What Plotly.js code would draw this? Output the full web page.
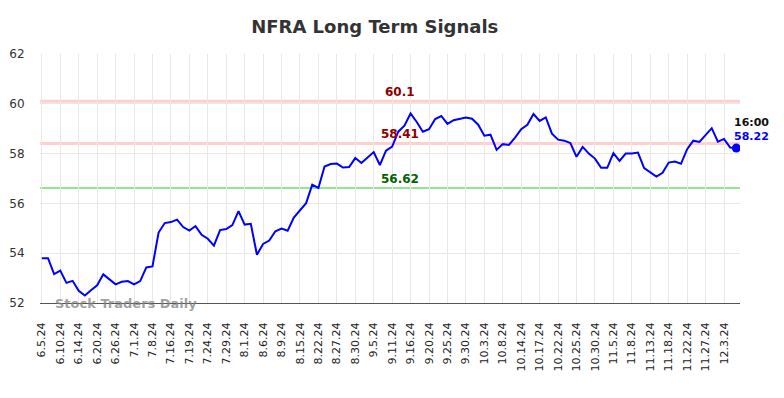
<!DOCTYPE html>
<html>
<head>
<meta charset="utf-8">
<script src="https://cdn.plot.ly/plotly-3.0.1.min.js"></script>
<style>html,body{margin:0;padding:0;background:#fff;}#chart{width:784px;height:398px;}</style>
</head>
<body>
<div id="chart"></div>
<script>
const dates = [
"6.5.24","6.6.24","6.7.24","6.10.24","6.11.24","6.12.24","6.14.24","6.17.24","6.18.24",
"6.20.24","6.21.24","6.24.24","6.26.24","6.27.24","6.28.24","7.1.24","7.2.24","7.3.24",
"7.8.24","7.10.24","7.12.24","7.16.24","7.17.24","7.18.24","7.19.24","7.22.24","7.23.24",
"7.24.24","7.25.24","7.26.24","7.29.24","7.30.24","7.31.24","8.1.24","8.2.24","8.5.24",
"8.6.24","8.7.24","8.8.24","8.9.24","8.12.24","8.13.24","8.15.24","8.16.24","8.19.24",
"8.22.24","8.23.24","8.26.24","8.27.24","8.28.24","8.29.24","8.30.24","9.3.24","9.4.24",
"9.5.24","9.6.24","9.9.24","9.11.24","9.12.24","9.13.24","9.16.24","9.17.24","9.18.24",
"9.20.24","9.23.24","9.24.24","9.25.24","9.26.24","9.27.24","9.30.24","10.1.24","10.2.24",
"10.3.24","10.4.24","10.7.24","10.8.24","10.9.24","10.10.24","10.14.24","10.15.24","10.16.24",
"10.17.24","10.18.24","10.21.24","10.22.24","10.23.24","10.24.24","10.25.24","10.28.24","10.29.24",
"10.30.24","10.31.24","11.1.24","11.5.24","11.6.24","11.7.24","11.8.24","11.11.24","11.12.24",
"11.13.24","11.14.24","11.15.24","11.18.24","11.19.24","11.20.24","11.22.24","11.25.24","11.26.24",
"11.27.24","11.29.24","12.2.24","12.3.24","12.4.24","12.5.24"
];
const prices = [
53.80,53.80,53.16,53.30,52.81,52.89,52.49,52.30,52.51,
52.71,53.15,52.96,52.75,52.85,52.88,52.75,52.88,53.43,
53.47,54.83,55.21,55.25,55.35,55.05,54.91,55.09,54.74,
54.58,54.30,54.93,54.97,55.13,55.69,55.15,55.18,53.94,
54.37,54.51,54.88,54.99,54.90,55.43,55.70,56.01,56.75,
56.62,57.48,57.58,57.60,57.44,57.46,57.82,57.62,57.84,
58.06,57.54,58.12,58.28,58.88,59.12,59.61,59.27,58.88,
58.98,59.39,59.51,59.19,59.34,59.40,59.45,59.40,59.16,
58.72,58.76,58.15,58.38,58.35,58.64,58.98,59.16,59.59,
59.31,59.45,58.80,58.56,58.52,58.42,57.87,58.27,58.00,
57.80,57.43,57.43,58.02,57.71,58.00,58.00,58.04,57.42,
57.24,57.08,57.23,57.64,57.68,57.59,58.18,58.52,58.47,
58.74,59.02,58.48,58.59,58.24,58.22
];
const tickLabels = [
"6.5.24","6.10.24","6.14.24","6.20.24","6.26.24","7.1.24","7.8.24","7.16.24","7.19.24",
"7.24.24","7.29.24","8.1.24","8.6.24","8.9.24","8.15.24","8.22.24","8.27.24","8.30.24",
"9.5.24","9.11.24","9.16.24","9.20.24","9.25.24","9.30.24","10.3.24","10.8.24","10.14.24",
"10.17.24","10.22.24","10.25.24","10.30.24","11.5.24","11.8.24","11.13.24","11.18.24",
"11.22.24","11.27.24","12.3.24"
];
const levelValues = [60.1, 58.41, 56.62];
const levelLabels = ["60.1", "58.41", "56.62"];
const levelLineColors = ["rgba(255,190,190,0.75)", "rgba(255,190,190,0.75)", "rgba(120,225,120,0.8)"];
const levelTextColors = ["#8b0000", "#8b0000", "#006400"];
const lastTime = "16:00";

const n = prices.length;
const lastDate = dates[n - 1];
const lastPrice = prices[n - 1];

const shapes = levelValues.map((v, i) => ({
  type: "line", xref: "paper", x0: 0, x1: 1, yref: "y", y0: v, y1: v,
  line: {color: levelLineColors[i], width: i < 2 ? 3 : 2}, layer: "below"
}));

const annotations = levelValues.map((v, i) => ({
  xref: "paper", x: 0.514, y: v, yref: "y", text: "<b>" + levelLabels[i] + "</b>",
  showarrow: false, xanchor: "center", yanchor: "bottom", yshift: 0,
  font: {family: "DejaVu Sans", size: 12, color: levelTextColors[i]}
}));
annotations.push({
  x: lastDate, y: lastPrice, xref: "x", yref: "y", text: "<b>" + lastTime + "</b>",
  showarrow: false, xanchor: "left", yanchor: "bottom", xshift: -4, yshift: 17,
  font: {family: "DejaVu Sans", size: 11, color: "#111"}
});
annotations.push({
  x: lastDate, y: lastPrice, xref: "x", yref: "y", text: "<b>" + lastPrice.toFixed(2) + "</b>",
  showarrow: false, xanchor: "left", yanchor: "bottom", xshift: -4, yshift: 3,
  font: {family: "DejaVu Sans", size: 11, color: "#0000ff"}
});
annotations.push({
  xref: "paper", yref: "paper", x: 0.018, y: 0, text: "<b>Stock Traders Daily</b>",
  showarrow: false, xanchor: "left", yanchor: "middle",
  font: {family: "DejaVu Sans", size: 13, color: "rgba(130,130,130,0.75)"}
});

const traces = [
  {x: dates, y: prices, type: "scatter", mode: "lines",
   line: {color: "#0000ff", width: 2}, hoverinfo: "skip"},
  {x: [lastDate], y: [lastPrice], type: "scatter", mode: "markers",
   marker: {color: "#0000ff", size: 9}, hoverinfo: "skip"}
];

const layout = {
  width: 784, height: 398,
  margin: {l: 40, r: 44, t: 54, b: 95},
  paper_bgcolor: "#fff", plot_bgcolor: "#fff",
  showlegend: false,
  title: {text: "<b>NFRA Long Term Signals</b>", x: 0.478, xref: "container", xanchor: "center",
          y: 0.932, yref: "container", yanchor: "middle",
          font: {family: "DejaVu Sans", size: 18, color: "#333"}},
  xaxis: {type: "category", range: [-0.3, 113.6], tickmode: "array", tickvals: tickLabels, ticktext: tickLabels,
          tickangle: -90, showgrid: true, gridcolor: "#e8e8e8", gridwidth: 1,
          showline: true, linecolor: "#555", linewidth: 1, zeroline: false,
          ticks: "outside", ticklen: 14, tickcolor: "rgba(0,0,0,0)",
          tickfont: {family: "DejaVu Sans", size: 11, color: "#222"}, fixedrange: true},
  yaxis: {range: [52, 62], tickvals: [52, 54, 56, 58, 60, 62], showgrid: true, gridcolor: "#e8e8e8", gridwidth: 1,
          zeroline: false, showline: false, ticks: "outside", ticklen: 12, tickcolor: "rgba(0,0,0,0)",
          tickfont: {family: "DejaVu Sans", size: 12, color: "#333"}, fixedrange: true},
  shapes: shapes,
  annotations: annotations
};

Plotly.newPlot("chart", traces, layout, {staticPlot: true, displayModeBar: false});
</script>
</body>
</html>
